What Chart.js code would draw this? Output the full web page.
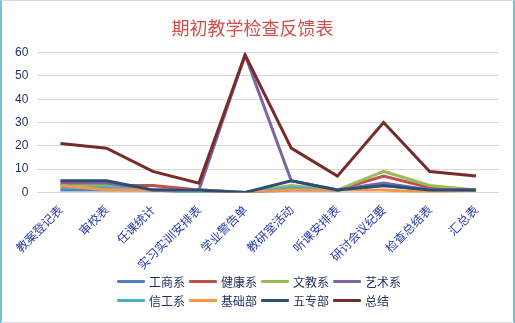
<!DOCTYPE html>
<html>
<head>
<meta charset="utf-8">
<script src="https://cdn.jsdelivr.net/npm/chart.js@4"></script>
<style>
  html, body { margin: 0; padding: 0; background: #fff; }
  #box {
    position: relative;
    width: 511px; height: 321px;
    border: 1px solid #d9d9d9;
    border-left: 2px solid #6fc3d8;
    border-right: 2px solid #6fc3d8;
  }
  canvas { display: block; }
  #legend {
    position: absolute;
    left: 115px; top: 272px;
    display: grid;
    grid-template-columns: repeat(4, 72px);
    row-gap: 3px;
    font-family: "Noto Sans CJK SC", sans-serif;
    font-size: 12px;
    color: #1f2d5a;
  }
  #legend div { display: flex; align-items: center; height: 16px; white-space: nowrap; }
  #legend span.mark { width: 28px; height: 3px; border-radius: 1px; margin-right: 4px; }
</style>
</head>
<body>
<div id="box">
  <canvas id="chartContainer" width="511" height="321"></canvas>
  <div id="legend"></div>
</div>
<script>
// 检查项目
const categories = ['教案登记表', '审校表', '任课统计', '实习实训安排表', '学业警告单', '教研室活动', '听课安排表', '研讨会议纪要', '检查总结表', '汇总表'];

// 各系部数量
const gongShang = [1, 1, 1, 0, 0, 1, 1, 3, 1, 1];
const jianKang  = [3, 3, 3, 1, 0, 2, 1, 7, 2, 1];
const wenJiao   = [3, 3, 1, 0, 0, 3, 1, 9, 3, 1];
const yiShu     = [4, 4, 1, 1, 59, 5, 1, 4, 1, 1];
const xinGong   = [2, 2, 1, 0, 0, 2, 1, 3, 1, 1];
const jiChu     = [3, 1, 1, 1, 0, 1, 1, 1, 0, 1];
const wuZhuan   = [5, 5, 1, 1, 0, 5, 1, 3, 1, 1];
const zongJie   = [21, 19, 9, 4, 59, 19, 7, 30, 9, 7];

const yTicks = [0, 10, 20, 30, 40, 50, 60];

const series = [
    ['工商系', gongShang, '#4f81bd'],
    ['健康系', jianKang, '#c0504d'],
    ['文教系', wenJiao, '#9bbb59'],
    ['艺术系', yiShu, '#8064a2'],
    ['信工系', xinGong, '#4bacc6'],
    ['基础部', jiChu, '#f79646'],
    ['五专部', wuZhuan, '#2c4d75'],
    ['总结', zongJie, '#772c2a']
];

// 后面的系列要画在上层，所以倒过来交给 Chart.js
const datasets = series.slice().reverse().map(([label, data, color]) => ({
    label: label,
    data: data,
    borderColor: color,
    backgroundColor: color,
    borderWidth: 3,
    pointRadius: 0,
    tension: 0
}));

// 图例：两行四列
const legend = document.getElementById('legend');
series.forEach(([label, data, color]) => {
    const item = document.createElement('div');
    const mark = document.createElement('span');
    mark.className = 'mark';
    mark.style.background = color;
    item.appendChild(mark);
    item.appendChild(document.createTextNode(label));
    legend.appendChild(item);
});

const cjk = '"Noto Sans CJK SC", sans-serif';

new Chart(document.getElementById('chartContainer'), {
    type: 'line',
    data: { labels: categories, datasets: datasets },
    options: {
        responsive: false,
        animation: false,
        layout: { padding: { left: 4, right: 14, top: 12, bottom: 48 } },
        plugins: {
            title: {
                display: true,
                text: '期初教学检查反馈表',
                color: '#d0504d',
                font: { family: cjk, size: 18, weight: 'normal' },
                padding: { top: 4, bottom: 14 }
            },
            legend: { display: false },
            tooltip: { enabled: false }
        },
        scales: {
            x: {
                offset: true,
                grid: { display: false },
                border: { display: false },
                ticks: {
                    color: '#2638a8',
                    font: { family: cjk, size: 12 },
                    minRotation: 45,
                    maxRotation: 45,
                    padding: 2
                }
            },
            y: {
                min: 0,
                max: 60,
                afterBuildTicks: (axis) => { axis.ticks = yTicks.map(v => ({ value: v })); },
                grid: { color: '#d9d9d9', drawTicks: false },
                border: { display: false },
                ticks: {
                    color: '#1f2d5a',
                    font: { family: 'Arial, "Liberation Sans", sans-serif', size: 12 },
                    padding: 9
                }
            }
        }
    }
});
</script>
</body>
</html>
